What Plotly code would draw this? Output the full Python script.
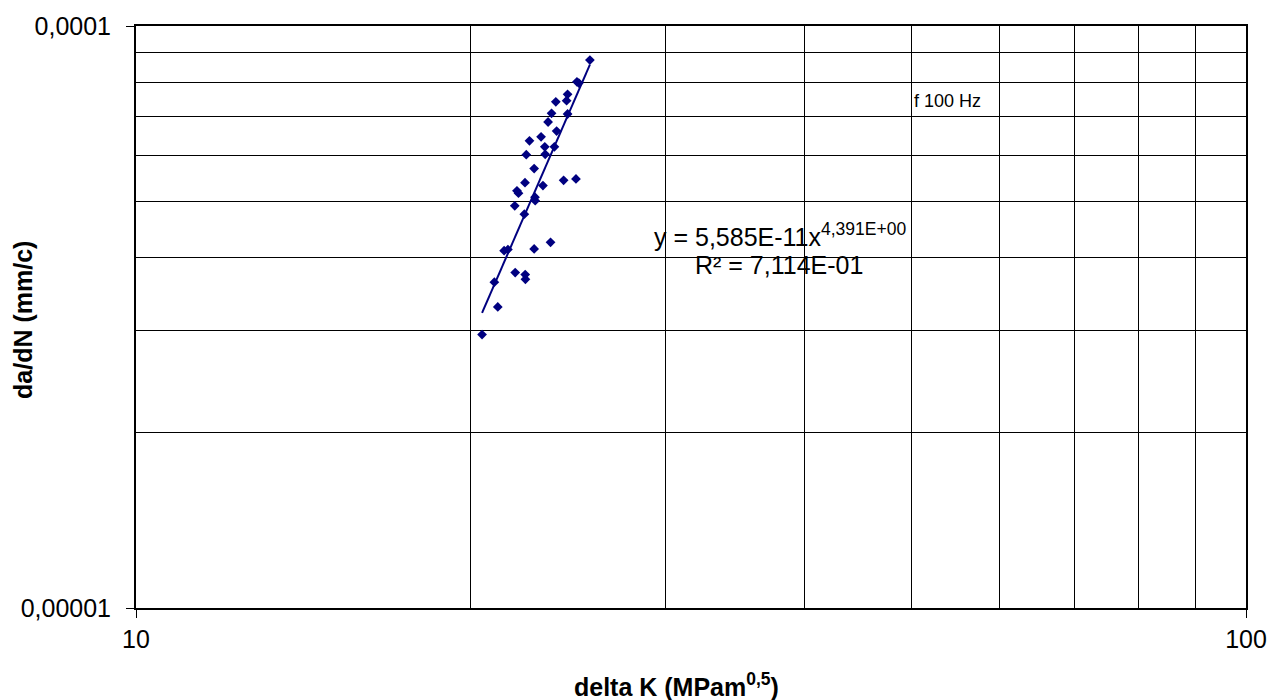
import numpy as np
import plotly.graph_objects as go

# Crack growth rate measurements
delta_k = [25.64, 24.96, 25.06, 24.48, 24.43, 23.89, 23.68, 24.48, 23.51, 23.93,
           22.62, 23.17, 23.35, 23.82, 22.47, 23.37, 22.84, 22.41, 23.26, 24.28,
           24.91, 22.04, 22.11, 22.88, 22.89, 21.94, 22.38, 21.46, 21.63, 22.84,
           23.63, 21.96, 22.42, 22.43, 21.03, 21.18, 20.50]
dadn = [8.74e-5, 8.02e-5, 7.98e-5, 7.63e-5, 7.44e-5, 7.41e-5, 7.08e-5, 7.06e-5, 6.84e-5, 6.60e-5,
        6.35e-5, 6.45e-5, 6.20e-5, 6.20e-5, 6.01e-5, 6.02e-5, 5.69e-5, 5.38e-5, 5.32e-5, 5.43e-5,
        5.46e-5, 5.21e-5, 5.16e-5, 5.08e-5, 5.01e-5, 4.91e-5, 4.75e-5, 4.11e-5, 4.13e-5, 4.14e-5,
        4.25e-5, 3.77e-5, 3.74e-5, 3.67e-5, 3.63e-5, 3.29e-5, 2.95e-5]

# Power-law trend: y = C * x^m
fit_c = 5.585e-11
fit_m = 4.391
fit_r2 = 0.7114

x_ticks = [10, 100]
x_ticktext = ["10", "100"]
y_ticks = [1e-5, 1e-4]
y_ticktext = ["0,00001", "0,0001"]
x_minor = [20, 30, 40, 50, 60, 70, 80, 90]
y_minor = [2e-5, 3e-5, 4e-5, 5e-5, 6e-5, 7e-5, 8e-5, 9e-5]

navy = "#000080"
font_family = "Liberation Sans, Arial, sans-serif"

fit_x = np.logspace(np.log10(min(delta_k)), np.log10(max(delta_k)), 50)
fit_y = fit_c * fit_x ** fit_m

fig = go.Figure()
fig.add_trace(go.Scatter(
    x=delta_k, y=dadn, mode="markers",
    marker=dict(symbol="diamond", size=7.5, color=navy, line=dict(width=0)),
    showlegend=False, hoverinfo="x+y",
))
fig.add_trace(go.Scatter(
    x=fit_x, y=fit_y, mode="lines",
    line=dict(color=navy, width=2),
    showlegend=False, hoverinfo="skip",
))


def sci(v, digits=3):
    # Excel-style scientific notation with decimal comma
    s = f"{v:.{digits}E}"
    mant, exp = s.split("E")
    sign = exp[0]
    e = int(exp[1:])
    return f"{mant.replace('.', ',')}E{sign}{e:02d}"


# Trendline equation and R² label
fig.add_annotation(
    text=f"y = {sci(fit_c)}x<sup>{sci(fit_m)}</sup>",
    xref="paper", yref="paper", x=0.580, y=0.641,
    xanchor="center", yanchor="middle", showarrow=False,
    font=dict(family=font_family, size=25, color="black"),
)
fig.add_annotation(
    text=f"R² = {sci(fit_r2)}",
    xref="paper", yref="paper", x=0.579, y=0.589,
    xanchor="center", yanchor="middle", showarrow=False,
    font=dict(family=font_family, size=25, color="black"),
)
fig.add_annotation(
    text="f 100 Hz", xref="paper", yref="paper", x=0.7315, y=0.871,
    xanchor="center", yanchor="middle", showarrow=False,
    font=dict(family=font_family, size=18, color="black"),
)
fig.add_annotation(
    text="<b>delta K (MPam<sup>0,5</sup>)</b>", xref="paper", yref="paper",
    x=0.4865, y=-0.101, xanchor="center", yanchor="top", showarrow=False,
    font=dict(family=font_family, size=25, color="black"),
)
fig.add_annotation(
    text="<b>da/dN (mm/c)</b>", xref="paper", yref="paper",
    x=-0.1018, y=0.495, xanchor="center", yanchor="middle", showarrow=False,
    textangle=-90,
    font=dict(family=font_family, size=25, color="black"),
)

axis_common = dict(
    type="log", showline=True, linecolor="black", linewidth=2, mirror=True,
    showgrid=True, gridcolor="black", gridwidth=1,
    ticks="outside", ticklen=8, tickcolor="black", tickwidth=1,
    tickmode="array", zeroline=False, automargin=False,
    tickfont=dict(family=font_family, size=25, color="black"),
)

fig.update_xaxes(
    **axis_common, range=[1, 2], tickvals=x_ticks, ticktext=x_ticktext,
    minor=dict(tickmode="array", tickvals=x_minor, showgrid=True,
               gridcolor="black", gridwidth=1, ticklen=0),
)
fig.update_yaxes(
    **axis_common, range=[-5, -4], tickvals=y_ticks, ticktext=y_ticktext,
    ticklabelstandoff=10,
    minor=dict(tickmode="array", tickvals=y_minor, showgrid=True,
               gridcolor="black", gridwidth=1, ticklen=0),
)

fig.update_layout(
    width=1269, height=700,
    margin=dict(l=136, r=23, t=26, b=92),
    paper_bgcolor="white", plot_bgcolor="white",
    font=dict(family=font_family, color="black"),
)

fig.write_html("out.html")
